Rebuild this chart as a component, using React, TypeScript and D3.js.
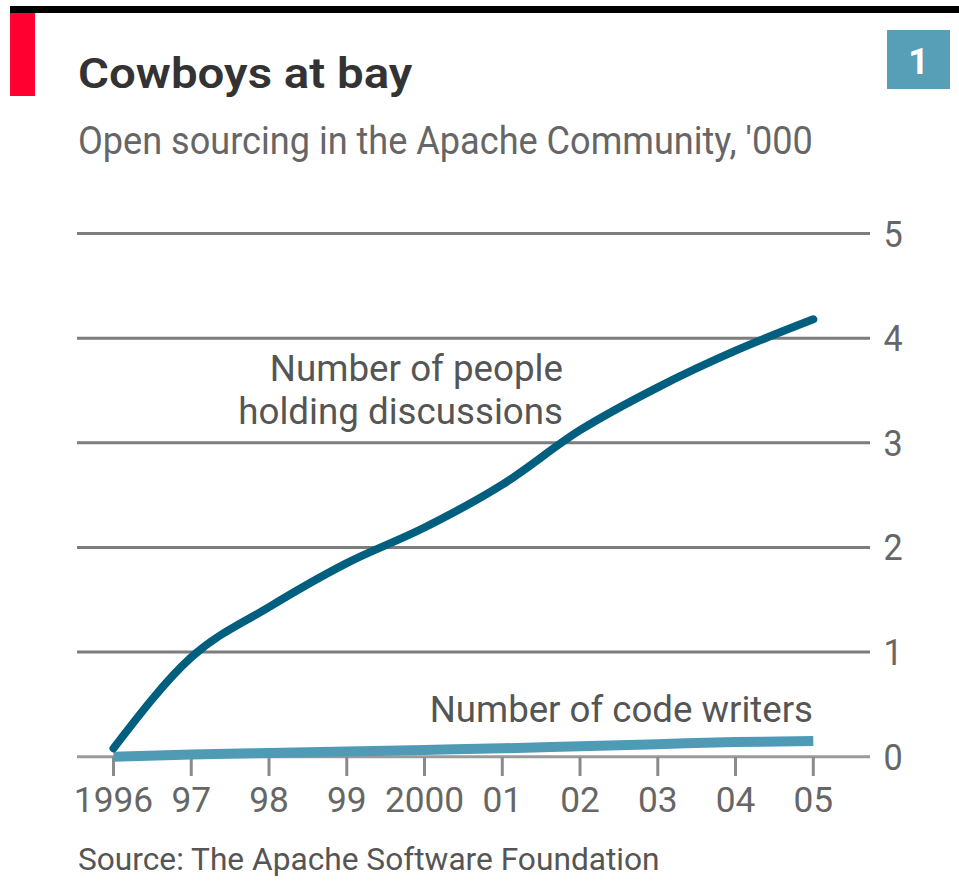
import React from "react";
import * as d3 from "d3";

const years = [1996, 1997, 1998, 1999, 2000, 2001, 2002, 2003, 2004, 2005];
const xTickLabels = ["1996", "97", "98", "99", "2000", "01", "02", "03", "04", "05"];
const yTicks = [0, 1, 2, 3, 4, 5];
const peopleValues = [0.08, 0.95, 1.43, 1.85, 2.19, 2.6, 3.12, 3.53, 3.88, 4.18];
const coderValues = [0.0, 0.02, 0.035, 0.05, 0.065, 0.08, 0.1, 0.12, 0.14, 0.15];

const title = "Cowboys at bay";
const subtitle = "Open sourcing in the Apache Community, '000";
const source = "Source: The Apache Software Foundation";
const peopleLabel = ["Number of people", "holding discussions"];
const coderLabel = "Number of code writers";

const W = 959;
const H = 892;
const FONT = "Roboto, 'Open Sans', sans-serif";

function T({ x, y, children, size, fill, anchor = "start", weight = 400, sx = 1 }: any) {
  return (
    <text
      transform={`translate(${x},${y}) scale(${sx},1)`}
      fontSize={size}
      fill={fill}
      textAnchor={anchor}
      fontWeight={weight}
      fontFamily={FONT}
    >
      {children}
    </text>
  );
}

export default function App() {
  const x = d3.scaleLinear().domain([1996, 2005]).range([113.5, 813.3]);
  const y = d3.scaleLinear().domain([0, 5]).range([756.7, 233.5]);
  const gridX0 = 77;
  const gridX1 = 870;

  const line = d3
    .line<number>()
    .x((_, i) => x(years[i]))
    .y((d) => y(d))
    .curve(d3.curveMonotoneX);

  return (
    <svg
      width={W}
      height={H}
      style={{ position: "absolute", left: 0, top: 0, background: "#fff" }}
    >
      <rect x={0} y={0} width={W} height={H} fill="#fff" />
      {/* top bar */}
      <rect x={10} y={6} width={W - 10} height={7} fill="#000" />
      <rect x={10} y={13} width={25} height={83} fill="#ff0030" />
      {/* chart number box */}
      <rect x={887} y={30} width={63} height={59} fill="#579fb7" />
      <text x={918.5} y={74} fontSize={36} fill="#fff" fontWeight={700} textAnchor="middle" fontFamily={FONT}>
        1
      </text>

      <T x={78} y={88} size={42} fill="#333" weight={600} sx={1.13}>
        {title}
      </T>
      <T x={78} y={154} size={38} fill="#666" sx={0.95}>
        {subtitle}
      </T>

      {/* gridlines */}
      {yTicks.map((t) => (
        <line
          key={t}
          x1={gridX0}
          x2={gridX1}
          y1={y(t)}
          y2={y(t)}
          stroke={t === 0 ? "#9a9a9a" : "#7d7d7d"}
          strokeWidth={3}
        />
      ))}
      {yTicks.map((t) => (
        <T key={t} x={893} y={y(t) + 13} size={36} fill="#666" anchor="middle" sx={0.95}>
          {String(t)}
        </T>
      ))}

      {/* x ticks */}
      {years.map((yr) => (
        <line key={yr} x1={x(yr)} x2={x(yr)} y1={757} y2={776} stroke="#8a8a8a" strokeWidth={3} />
      ))}
      {years.map((yr, i) => (
        <T key={yr} x={x(yr)} y={812} size={36} fill="#666" anchor="middle" sx={0.98}>
          {xTickLabels[i]}
        </T>
      ))}

      {/* lines */}
      <path d={line(coderValues) || ""} fill="none" stroke="#4f9bb6" strokeWidth={10} strokeLinecap="butt" />
      <path d={line(peopleValues) || ""} fill="none" stroke="#005f7e" strokeWidth={8} strokeLinecap="round" />

      {/* annotations */}
      <T x={563} y={381} size={36} fill="#555" anchor="end" sx={1.02}>
        {peopleLabel[0]}
      </T>
      <T x={563} y={424} size={36} fill="#555" anchor="end" sx={1.02}>
        {peopleLabel[1]}
      </T>
      <T x={813} y={722} size={37} fill="#555" anchor="end" sx={0.99}>
        {coderLabel}
      </T>

      <T x={78} y={870} size={32} fill="#555" sx={0.99}>
        {source}
      </T>
    </svg>
  );
}
